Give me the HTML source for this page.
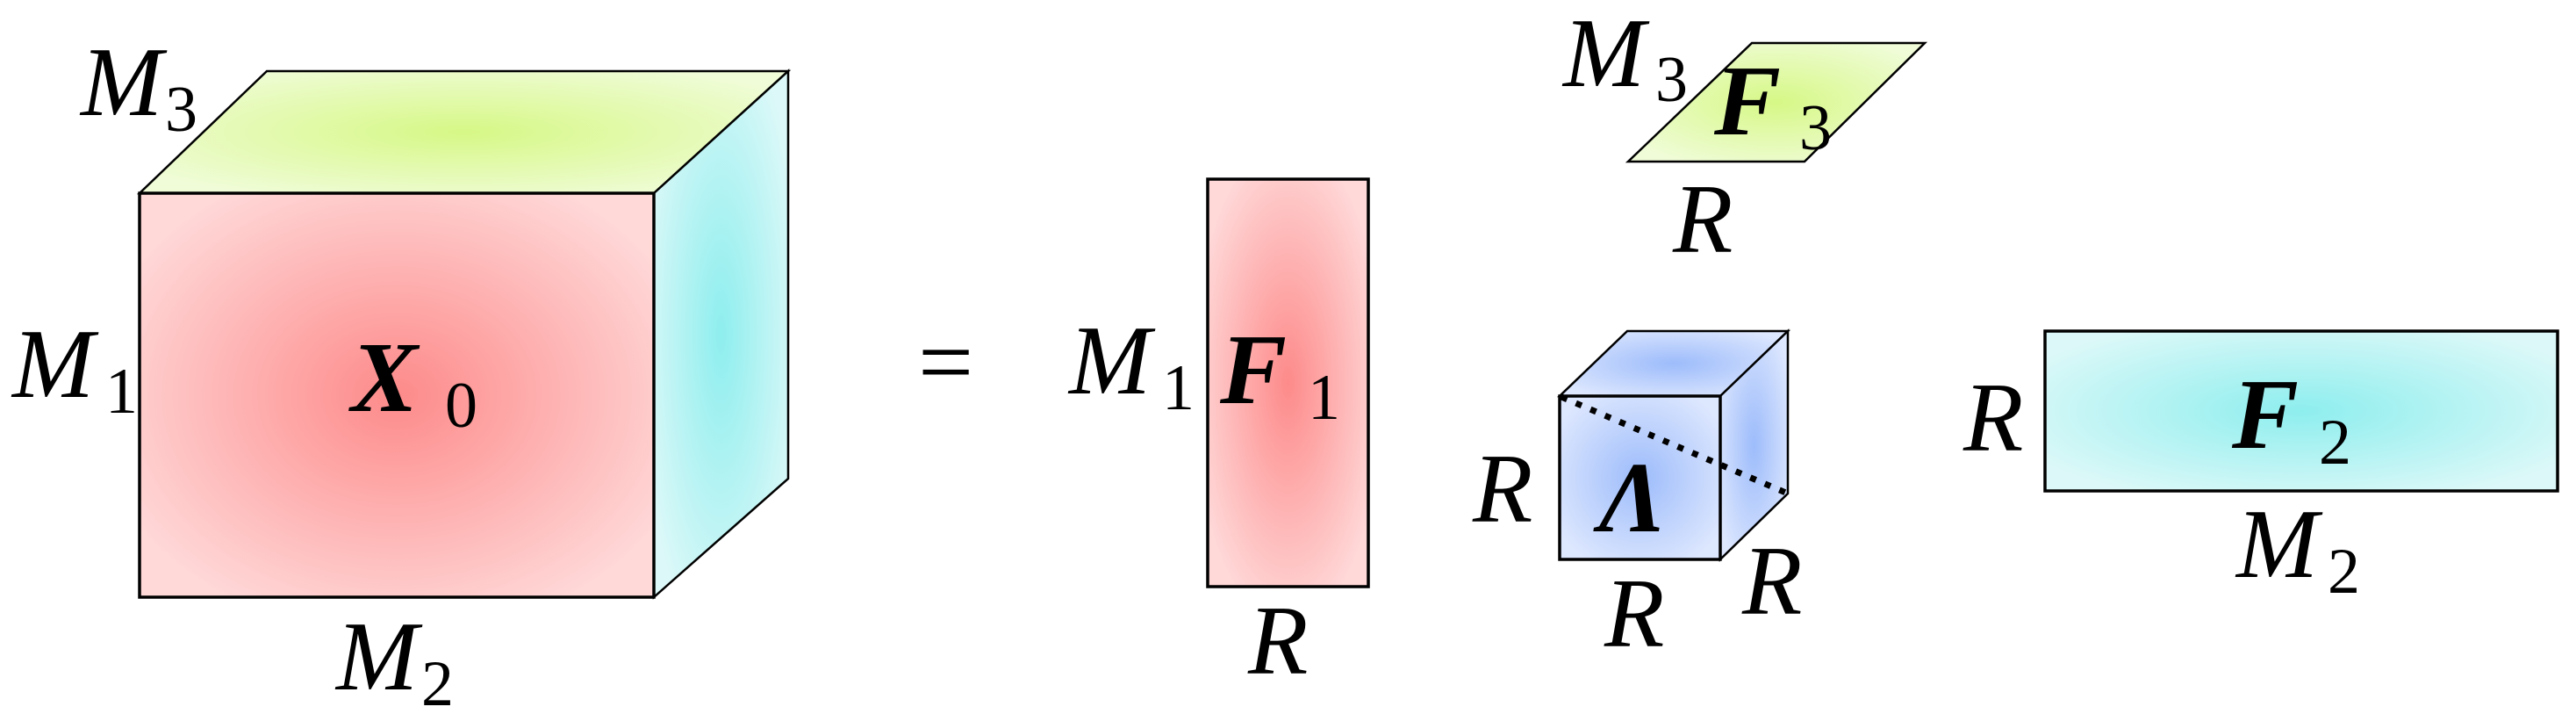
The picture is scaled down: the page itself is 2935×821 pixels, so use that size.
<!DOCTYPE html>
<html><head><meta charset="utf-8"><style>
html,body{margin:0;padding:0;background:#fff;}
svg{display:block;}
svg text{font-family:"Liberation Serif","DejaVu Serif",serif !important;fill:#000;}
.i{font-style:italic;font-size:112px;}
.s{font-size:74px;font-style:normal;}
.b{font-style:italic;font-weight:bold;font-size:114px;}
</style></head><body>
<svg width="2935" height="821" viewBox="0 0 2935 821" xmlns="http://www.w3.org/2000/svg" font-family="Liberation Serif, DejaVu Serif, serif">
<defs>
<radialGradient id="red" cx="0.5" cy="0.5" r="0.6">
<stop offset="0" stop-color="#fd8a8a"/><stop offset="1" stop-color="#ffd8d8"/></radialGradient>
<radialGradient id="grn" cx="0.5" cy="0.5" r="0.6">
<stop offset="0" stop-color="#d6f886"/><stop offset="1" stop-color="#f0fcd8"/></radialGradient>
<radialGradient id="cyn" cx="0.5" cy="0.5" r="0.6">
<stop offset="0" stop-color="#8eeeee"/><stop offset="1" stop-color="#dcf8f8"/></radialGradient>
<radialGradient id="blu" cx="0.5" cy="0.5" r="0.6">
<stop offset="0" stop-color="#9dbcfb"/><stop offset="1" stop-color="#dde7fe"/></radialGradient>
</defs>
<g stroke="#000" stroke-width="3.5" stroke-linejoin="miter">
<polygon points="159,220 304,81 898,81 745,220" fill="url(#grn)" stroke-width="2.5"/>
<polygon points="745,220 898,81 898,545 745,680" fill="url(#cyn)" stroke-width="2.5"/>
<rect x="159" y="220" width="586" height="460" fill="url(#red)"/>
<rect x="1376" y="204" width="183" height="464" fill="url(#red)"/>
<polygon points="1855,184 1996,49 2193,49 2056,184" fill="url(#grn)" stroke-width="2.5"/>
<polygon points="1777,451 1854,377 2037,377 1960,451" fill="url(#blu)" stroke-width="2.5"/>
<polygon points="1960,451 2037,377 2037,562 1960,637" fill="url(#blu)" stroke-width="2.5"/>
<rect x="1777" y="451" width="183" height="186" fill="url(#blu)"/>
<rect x="2330" y="377" width="584" height="182" fill="url(#cyn)"/>
</g>
<line x1="1779" y1="452" x2="2037" y2="562" stroke="#000" stroke-width="7" stroke-dasharray="7,11"/>
<text x="92" y="131" class="i">M</text><text x="188" y="149" class="s">3</text>
<text x="14" y="452" class="i">M</text><text x="120" y="470" class="s">1</text>
<text x="400" y="468" class="b">X</text><text x="507" y="486" class="s">0</text>
<text x="383" y="785" class="i">M</text><text x="480" y="803" class="s">2</text>
<text x="1046" y="450" style="font-size:112px">=</text>
<text x="1218" y="448" class="i">M</text><text x="1324" y="466" class="s">1</text>
<text x="1390" y="459" class="b">F</text><text x="1490" y="477" class="s">1</text>
<text x="1422" y="767" class="i">R</text>
<text x="1781" y="98" class="i">M</text><text x="1886" y="115" class="s">3</text>
<text x="1953" y="153" class="b">F</text><text x="2050" y="170" class="s">3</text>
<text x="1906" y="287" class="i">R</text>
<text x="1678" y="594" class="i">R</text>
<text x="1822" y="605" class="b">Λ</text>
<text x="1828" y="736" class="i">R</text>
<text x="1985" y="699" class="i">R</text>
<text x="2237" y="513" class="i">R</text>
<text x="2543" y="510" class="b">F</text><text x="2642" y="528" class="s">2</text>
<text x="2548" y="657" class="i">M</text><text x="2652" y="675" class="s">2</text>
</svg>
</body></html>
